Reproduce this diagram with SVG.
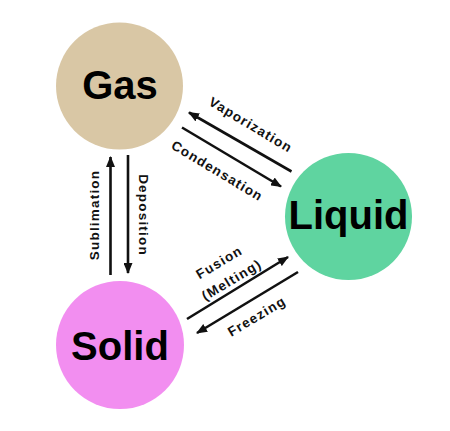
<svg xmlns="http://www.w3.org/2000/svg" width="450" height="431" viewBox="0 0 450 431">
<defs>
<marker id="ah" markerUnits="userSpaceOnUse" markerWidth="11" markerHeight="9" refX="10" refY="4.5" orient="auto">
<path d="M0,0 L11,4.5 L0,9 z" fill="#111"/>
</marker>
<style>
.state{font-family:"Liberation Sans",Arial,sans-serif;font-weight:bold;font-size:40px;fill:#000;text-anchor:middle}
.lbl{font-family:"Liberation Sans",Arial,sans-serif;font-weight:bold;font-size:13.5px;fill:#111;text-anchor:middle;letter-spacing:1.2px}
.arr{stroke:#111;stroke-width:2.6;fill:none;marker-end:url(#ah)}
</style>
</defs>
<rect width="450" height="431" fill="#fff"/>
<g id="gas">
<circle cx="119.5" cy="86" r="63.5" fill="#d9c7a5"/>
<text class="state" x="120" y="99">Gas</text>
</g>
<g id="liquid">
<circle cx="348.5" cy="216.5" r="63.5" fill="#5fd4a0"/>
<text class="state" x="348.5" y="229">Liquid</text>
</g>
<g id="solid">
<circle cx="120" cy="345" r="64" fill="#f28ef0"/>
<text class="state" x="120" y="360">Solid</text>
</g>
<g id="connectors">
<line class="arr" x1="291.5" y1="171.5" x2="189" y2="112.5"/>
<line class="arr" x1="182" y1="127.5" x2="281" y2="186.5"/>
<line class="arr" x1="110.5" y1="275" x2="110.5" y2="157"/>
<line class="arr" x1="128" y1="155" x2="128" y2="273"/>
<line class="arr" x1="187" y1="319" x2="288" y2="257"/>
<line class="arr" x1="298" y1="272" x2="197" y2="333"/>
<text class="lbl" transform="translate(251,124.5) rotate(31)" y="5">Vaporization</text>
<text class="lbl" transform="translate(217.5,170.5) rotate(31)" y="5">Condensation</text>
<text class="lbl" transform="translate(93.5,215) rotate(-90)" y="5">Sublimation</text>
<text class="lbl" transform="translate(144,215) rotate(90)" y="5">Deposition</text>
<text class="lbl" transform="translate(219,262) rotate(-31)" y="5">Fusion</text>
<text class="lbl" transform="translate(231.5,279.5) rotate(-31)" y="5">(Melting)</text>
<text class="lbl" transform="translate(256.5,316) rotate(-31)" y="5">Freezing</text>
</g>
</svg>
